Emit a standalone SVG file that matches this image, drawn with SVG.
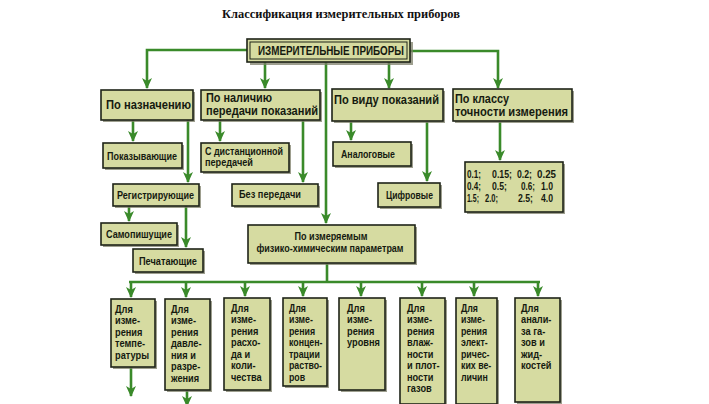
<svg xmlns="http://www.w3.org/2000/svg" width="709" height="404" viewBox="0 0 709 404">
<defs>
<marker id="dn" markerUnits="userSpaceOnUse" markerWidth="10" markerHeight="11" refX="5" refY="10" orient="0" viewBox="0 0 10 11">
<path d="M0,0 L5,3 L10,0 L5,11 Z" fill="#3a8a2a"/>
</marker>
</defs>
<style>
.bx{fill:#d6dba1;stroke:#1e2418;stroke-width:1.6}
.sh{fill:#7d7f6a;opacity:0.75}
.t{font-family:"Liberation Sans",Arial,sans-serif;font-weight:bold;fill:#151a10;font-size:12px}
.s{font-size:11px}
.n{font-size:11px}
.c{text-anchor:middle}
.ln{fill:none;stroke:#3a8a2a;stroke-width:2.6}
.ar{marker-end:url(#dn)}
.title{font-family:"Liberation Serif",serif;font-weight:bold;font-size:13px;fill:#111;text-anchor:middle}
</style>
<rect width="709" height="404" fill="#ffffff"/>
<text class="title" x="341" y="18" textLength="238" lengthAdjust="spacingAndGlyphs">Классификация измерительных приборов</text>

<g id="connectors">
<path class="ln ar" d="M247,50 H147 V88"/>
<path class="ln ar" d="M410,51 H498 V88"/>
<path class="ln ar" d="M265,62 V88"/>
<path class="ln ar" d="M389,62 V88"/>
<path class="ln ar" d="M326,62 V223"/>
<path class="ln ar" d="M133,120 V141"/>
<path class="ln ar" d="M188,120 V182"/>
<path class="ln ar" d="M129,206 V221"/>
<path class="ln ar" d="M186,206 V247"/>
<path class="ln ar" d="M220,120 V141"/>
<path class="ln ar" d="M303,120 V182"/>
<path class="ln ar" d="M351,122 V140"/>
<path class="ln ar" d="M427,122 V181"/>
<path class="ln ar" d="M500,122 V160"/>
<path class="ln" d="M327,263 V282"/>
<path class="ln" d="M129,282 H540"/>
<path class="ln ar" d="M131,282 V297"/>
<path class="ln ar" d="M186,282 V297"/>
<path class="ln ar" d="M245,282 V296"/>
<path class="ln ar" d="M303,282 V296"/>
<path class="ln ar" d="M361,282 V296"/>
<path class="ln ar" d="M422,282 V296"/>
<path class="ln ar" d="M474,282 V296"/>
<path class="ln ar" d="M538,282 V296"/>
<path class="ln ar" d="M131,367 V396"/>
<path class="ln ar" d="M187,390 V406"/>
</g>

<g id="n-main">
<rect class="sh" x="250" y="42" width="163" height="23"/>
<rect class="bx" x="247" y="39" width="163" height="23" stroke-width="2"/>
<rect x="250" y="42" width="157" height="17" fill="none" stroke="#1e2418" stroke-width="1"/>
<text class="t c" x="331" y="55" textLength="146" lengthAdjust="spacingAndGlyphs">ИЗМЕРИТЕЛЬНЫЕ ПРИБОРЫ</text>
</g>

<g id="n-naznach">
<rect class="sh" x="103" y="92" width="92" height="30"/>
<rect class="bx" x="101" y="90" width="92" height="30"/>
<text class="t" x="106" y="109" textLength="85" lengthAdjust="spacingAndGlyphs">По назначению</text>
</g>
<g id="n-nalichie">
<rect class="sh" x="203" y="92" width="119" height="30"/>
<rect class="bx" x="201" y="90" width="119" height="30"/>
<text class="t" x="206" y="102" textLength="66" lengthAdjust="spacingAndGlyphs">По наличию</text>
<text class="t" x="206" y="115" textLength="112" lengthAdjust="spacingAndGlyphs">передачи показаний</text>
</g>
<g id="n-vid">
<rect class="sh" x="334" y="91" width="111" height="32"/>
<rect class="bx" x="332" y="89" width="111" height="32"/>
<text class="t" x="334" y="104" textLength="105" lengthAdjust="spacingAndGlyphs">По виду показаний</text>
</g>
<g id="n-klass">
<rect class="sh" x="455" y="91" width="119" height="32"/>
<rect class="bx" x="453" y="89" width="119" height="32"/>
<text class="t" x="455" y="103" textLength="54" lengthAdjust="spacingAndGlyphs">По классу</text>
<text class="t" x="455" y="116" textLength="113" lengthAdjust="spacingAndGlyphs">точности измерения</text>
</g>

<g id="n-pokaz">
<rect class="sh" x="105" y="145" width="79" height="25"/>
<rect class="bx" x="103" y="143" width="79" height="25"/>
<text class="t s" x="107" y="160" textLength="70" lengthAdjust="spacingAndGlyphs">Показывающие</text>
</g>
<g id="n-registr">
<rect class="sh" x="115" y="186" width="86" height="22"/>
<rect class="bx" x="113" y="184" width="86" height="22"/>
<text class="t s" x="117" y="199" textLength="77" lengthAdjust="spacingAndGlyphs">Регистрирующие</text>
</g>
<g id="n-samopish">
<rect class="sh" x="103" y="225" width="76" height="22"/>
<rect class="bx" x="101" y="223" width="76" height="22"/>
<text class="t s" x="106" y="238" textLength="66" lengthAdjust="spacingAndGlyphs">Самопишущие</text>
</g>
<g id="n-pechat">
<rect class="sh" x="135" y="251" width="70" height="23"/>
<rect class="bx" x="133" y="249" width="70" height="23"/>
<text class="t s" x="139" y="265" textLength="58" lengthAdjust="spacingAndGlyphs">Печатающие</text>
</g>
<g id="n-distanc">
<rect class="sh" x="203" y="145" width="88" height="29"/>
<rect class="bx" x="201" y="143" width="88" height="29"/>
<text class="t s" x="205" y="155" textLength="78" lengthAdjust="spacingAndGlyphs">С дистанционной</text>
<text class="t s" x="205" y="166" textLength="48" lengthAdjust="spacingAndGlyphs">передачей</text>
</g>
<g id="n-bez">
<rect class="sh" x="234" y="186" width="86" height="22"/>
<rect class="bx" x="232" y="184" width="86" height="22"/>
<text class="t s" x="239" y="198" textLength="62" lengthAdjust="spacingAndGlyphs">Без передачи</text>
</g>
<g id="n-analog">
<rect class="sh" x="335" y="144" width="78" height="24"/>
<rect class="bx" x="333" y="142" width="78" height="24"/>
<text class="t s" x="341" y="158" textLength="54" lengthAdjust="spacingAndGlyphs">Аналоговые</text>
</g>
<g id="n-cifr">
<rect class="sh" x="380" y="185" width="62" height="24"/>
<rect class="bx" x="378" y="183" width="62" height="24"/>
<text class="t s" x="386" y="199" textLength="47" lengthAdjust="spacingAndGlyphs">Цифровые</text>
</g>
<g id="n-values">
<rect class="sh" x="467" y="164" width="98" height="50"/>
<rect class="bx" x="465" y="162" width="98" height="50"/>
<text class="t n" x="467" y="178" textLength="14" lengthAdjust="spacingAndGlyphs">0.1;</text>
<text class="t n" x="492" y="178" textLength="20" lengthAdjust="spacingAndGlyphs">0.15;</text>
<text class="t n" x="517" y="178" textLength="15" lengthAdjust="spacingAndGlyphs">0.2;</text>
<text class="t n" x="537" y="178" textLength="19" lengthAdjust="spacingAndGlyphs">0.25</text>
<text class="t n" x="467" y="190" textLength="14" lengthAdjust="spacingAndGlyphs">0.4;</text>
<text class="t n" x="492" y="190" textLength="15" lengthAdjust="spacingAndGlyphs">0.5;</text>
<text class="t n" x="521" y="190" textLength="14" lengthAdjust="spacingAndGlyphs">0.6;</text>
<text class="t n" x="541" y="190" textLength="12" lengthAdjust="spacingAndGlyphs">1.0</text>
<text class="t n" x="467" y="202" textLength="12" lengthAdjust="spacingAndGlyphs">1.5;</text>
<text class="t n" x="485" y="202" textLength="13" lengthAdjust="spacingAndGlyphs">2.0;</text>
<text class="t n" x="518" y="202" textLength="15" lengthAdjust="spacingAndGlyphs">2.5;</text>
<text class="t n" x="541" y="202" textLength="12" lengthAdjust="spacingAndGlyphs">4.0</text>
</g>

<g id="n-param">
<rect class="sh" x="250" y="227" width="167" height="38"/>
<rect class="bx" x="248" y="225" width="167" height="38"/>
<text class="t s c" x="331" y="240" textLength="73" lengthAdjust="spacingAndGlyphs">По измеряемым</text>
<text class="t s c" x="330" y="252" textLength="147" lengthAdjust="spacingAndGlyphs">физико-химическим параметрам</text>
</g>

<g id="n-temp">
<rect class="sh" x="113" y="301" width="44" height="68"/>
<rect class="bx" x="111" y="299" width="44" height="68" stroke-width="2"/>
<text class="t s" transform="translate(115,0) scale(0.84,1)"><tspan x="0" y="313">Для</tspan><tspan x="0" y="324.5">изме-</tspan><tspan x="0" y="336">рения</tspan><tspan x="0" y="347.5">темпе-</tspan><tspan x="0" y="359">ратуры</tspan></text>
</g>
<g id="n-davl">
<rect class="sh" x="167" y="301" width="45" height="91"/>
<rect class="bx" x="165" y="299" width="45" height="91" stroke-width="2"/>
<text class="t s" transform="translate(171,0) scale(0.84,1)"><tspan x="0" y="313">Для</tspan><tspan x="0" y="324.5">изме-</tspan><tspan x="0" y="336">рения</tspan><tspan x="0" y="347.5">давле-</tspan><tspan x="0" y="359">ния и</tspan><tspan x="0" y="370.5">разре-</tspan><tspan x="0" y="382">жения</tspan></text>
</g>
<g id="n-rashod">
<rect class="sh" x="226" y="300" width="46" height="92"/>
<rect class="bx" x="224" y="298" width="46" height="92"/>
<text class="t s" transform="translate(231,0) scale(0.84,1)"><tspan x="0" y="312">Для</tspan><tspan x="0" y="323.5">изме-</tspan><tspan x="0" y="335">рения</tspan><tspan x="0" y="346.5">расхо-</tspan><tspan x="0" y="358">да и</tspan><tspan x="0" y="369.5">коли-</tspan><tspan x="0" y="381">чества</tspan></text>
</g>
<g id="n-konc">
<rect class="sh" x="285" y="300" width="44" height="88"/>
<rect class="bx" x="283" y="298" width="44" height="88"/>
<text class="t s" transform="translate(289,0) scale(0.8,1)"><tspan x="0" y="312">Для</tspan><tspan x="0" y="323.5">изме-</tspan><tspan x="0" y="335">рения</tspan><tspan x="0" y="346.5">концен-</tspan><tspan x="0" y="358">трации</tspan><tspan x="0" y="369.5">раство-</tspan><tspan x="0" y="381">ров</tspan></text>
</g>
<g id="n-urov">
<rect class="sh" x="341" y="300" width="46" height="92"/>
<rect class="bx" x="339" y="298" width="46" height="92"/>
<text class="t s" transform="translate(347,0) scale(0.84,1)"><tspan x="0" y="312">Для</tspan><tspan x="0" y="323.5">изме-</tspan><tspan x="0" y="335">рения</tspan><tspan x="0" y="346.5">уровня</tspan></text>
</g>
<g id="n-vlazh">
<rect class="sh" x="402" y="300" width="45" height="106"/>
<rect class="bx" x="400" y="298" width="45" height="106"/>
<text class="t s" transform="translate(407,0) scale(0.84,1)"><tspan x="0" y="312">Для</tspan><tspan x="0" y="323.5">изме-</tspan><tspan x="0" y="335">рения</tspan><tspan x="0" y="346.5">влаж-</tspan><tspan x="0" y="358">ности</tspan><tspan x="0" y="369.5">и плот-</tspan><tspan x="0" y="381">ности</tspan><tspan x="0" y="392.5">газов</tspan></text>
</g>
<g id="n-elektr">
<rect class="sh" x="458" y="300" width="41" height="106"/>
<rect class="bx" x="456" y="298" width="41" height="106"/>
<text class="t s" transform="translate(461,0) scale(0.8,1)"><tspan x="0" y="312">Для</tspan><tspan x="0" y="323.5">изме-</tspan><tspan x="0" y="335">рения</tspan><tspan x="0" y="346.5">элект-</tspan><tspan x="0" y="358">ричес-</tspan><tspan x="0" y="369.5">ких ве-</tspan><tspan x="0" y="381">личин</tspan></text>
</g>
<g id="n-gaz">
<rect class="sh" x="517" y="300" width="45" height="104"/>
<rect class="bx" x="515" y="298" width="45" height="104"/>
<text class="t s" transform="translate(521,0) scale(0.84,1)"><tspan x="0" y="312">Для</tspan><tspan x="0" y="323.5">анали-</tspan><tspan x="0" y="335">за га-</tspan><tspan x="0" y="346.5">зов и</tspan><tspan x="0" y="358">жид-</tspan><tspan x="0" y="369.5">костей</tspan></text>
</g>
</svg>
